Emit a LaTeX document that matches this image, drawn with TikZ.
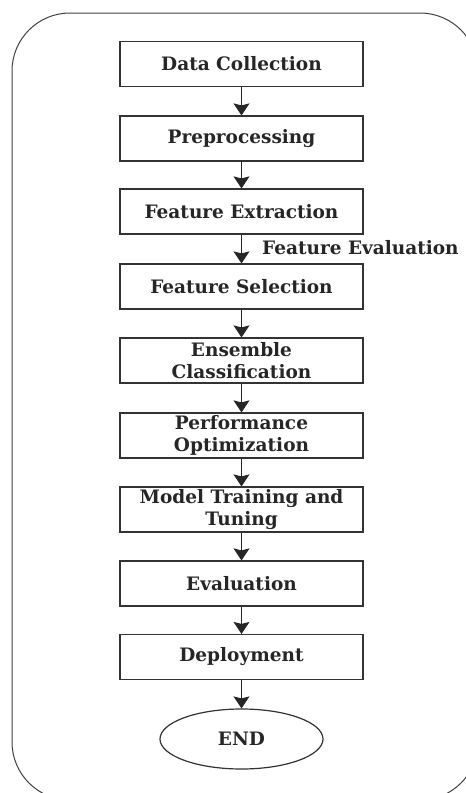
\documentclass[tikz,border=0pt]{standalone}
\usepackage{fontspec}
\setmainfont{DejaVu Serif}
\usetikzlibrary{arrows.meta,shapes.geometric}
\begin{document}
\begin{tikzpicture}[x=1pt,y=-1pt,
  stepbox/.style={draw=black!80,line width=1.2pt,minimum width=243pt,minimum height=45pt,
    inner sep=0pt,align=center,font=\bfseries\fontsize{18.5}{22}\selectfont,text=black!85},
  flow/.style={draw=black!85,line width=1pt,-{Stealth[width=16pt,length=12pt,inset=2pt]}},
  lbl/.style={font=\bfseries\fontsize{18.5}{22}\selectfont,text=black!85}]
\useasboundingbox (0,0) rectangle (466,793);
\clip (0,0) rectangle (466,793);
\fill[white] (0,0) rectangle (466,793);
\draw[black!75,line width=1pt,rounded corners=58pt] (12,13) rectangle (478,800);
\node[stepbox] (n1) at (241.5,64) {Data Collection};
\node[stepbox] (n2) at (241.5,138.5) {Preprocessing};
\node[stepbox] (n3) at (241.5,211.5) {Feature Extraction};
\node[stepbox] (n4) at (241.5,286.5) {Feature Selection};
\node[stepbox] (n5) at (241.5,360.5) {Ensemble\\Classification};
\node[stepbox] (n6) at (241.5,435.5) {Performance\\Optimization};
\node[stepbox] (n7) at (241.5,509.5) {Model Training and\\Tuning};
\node[stepbox] (n8) at (241.5,583.5) {Evaluation};
\node[stepbox] (n9) at (241.5,657) {Deployment};
\node[ellipse,draw=black!80,line width=1.2pt,minimum width=163pt,minimum height=60pt,inner sep=0pt,
  font=\bfseries\fontsize{18.5}{22}\selectfont,text=black!85] (end) at (241.5,739) {END};
\node[lbl,anchor=west,inner sep=0pt] (fe) at (262,248) {Feature Evaluation};
\draw[flow] (n1) -- (n2);
\draw[flow] (n2) -- (n3);
\draw[flow] (n3) -- (n4);
\draw[flow] (n4) -- (n5);
\draw[flow] (n5) -- (n6);
\draw[flow] (n6) -- (n7);
\draw[flow] (n7) -- (n8);
\draw[flow] (n8) -- (n9);
\draw[flow] (n9) -- (end);
\end{tikzpicture}
\end{document}
